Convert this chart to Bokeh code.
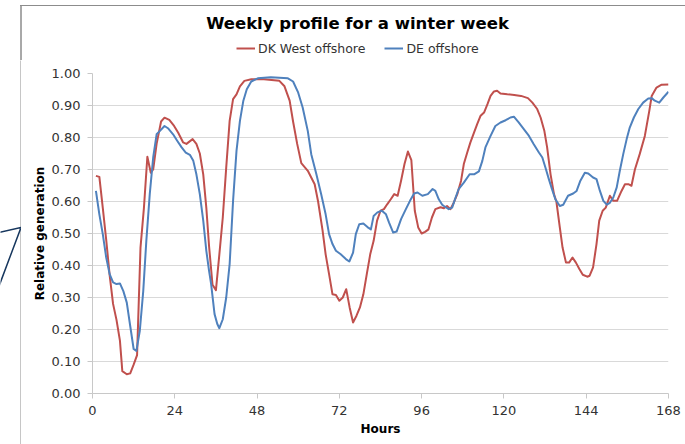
from bokeh.plotting import figure
from bokeh.layouts import column, row
from bokeh.models import (Legend, LegendItem, Label, PolyAnnotation, FixedTicker,
                          NumeralTickFormatter, Range1d)
from bokeh.embed import file_html
from bokeh.resources import INLINE

# ---- data ----
title_text = "Weekly profile for a winter week"
series_names = ["DK West offshore", "DE offshore"]
x_label = "Hours"
y_label = "Relative generation"
x_ticks = [0, 24, 48, 72, 96, 120, 144, 168]
y_ticks = [0.0, 0.1, 0.2, 0.3, 0.4, 0.5, 0.6, 0.7, 0.8, 0.9, 1.0]

dk_hours = [1, 2, 3, 4, 5, 6, 7, 8, 8.7, 10, 11, 12, 13, 14, 15, 16, 17, 17.7, 18.7, 20,
            21, 22.4, 23.8, 25, 26.4, 27.4, 29.2, 30.3, 31.3, 32.3, 33.2, 34, 35, 36, 37, 38,
            39, 40, 41, 42, 43, 44.3, 46.3, 50, 54.5, 56, 57.5, 58.5, 59.7, 60.9, 62.8, 64.8,
            65.8, 67.1, 68, 69, 70, 71, 72, 73, 74, 75, 76, 77, 78, 79, 80, 81, 82, 83, 84,
            85, 86, 87, 88, 89, 90, 91, 92, 93, 94, 95, 96, 97, 98, 99, 100, 101.5, 102.5,
            103.4, 104.4, 105.4, 106.4, 107.5, 108.3, 109.3, 110.2, 111.3, 112.2, 113.2,
            114.2, 115.2, 116.1, 117.1, 118, 119, 121, 123, 125, 127, 128.3, 129.7, 130.7,
            131.8, 132.6, 133.6, 134.6, 135.3, 136.3, 137.1, 138.1, 139, 140, 141, 142, 143,
            144.3, 145, 146, 147, 147.8, 148.8, 149.7, 150.9, 151.9, 153, 154.3, 155.3, 156.3,
            157.2, 158.2, 159.6, 161.1, 162.4, 163.1, 164.5, 166, 168]
dk_values = [0.68, 0.677, 0.58, 0.48, 0.37, 0.28, 0.23, 0.165, 0.07, 0.06, 0.063, 0.09, 0.12,
             0.456, 0.58, 0.74, 0.69, 0.70, 0.78, 0.85, 0.862, 0.855, 0.836, 0.815, 0.785,
             0.78, 0.795, 0.78, 0.75, 0.685, 0.58, 0.46, 0.34, 0.323, 0.435, 0.55, 0.706,
             0.852, 0.92, 0.935, 0.96, 0.977, 0.982, 0.982, 0.977, 0.96, 0.915, 0.85, 0.78,
             0.72, 0.696, 0.654, 0.60, 0.51, 0.435, 0.373, 0.31, 0.308, 0.29, 0.30, 0.326,
             0.269, 0.222, 0.243, 0.269, 0.31, 0.373, 0.435, 0.477, 0.54, 0.571, 0.576, 0.592,
             0.607, 0.623, 0.618, 0.665, 0.717, 0.756, 0.729, 0.571, 0.519, 0.50, 0.505, 0.513,
             0.55, 0.576, 0.582, 0.579, 0.586, 0.576, 0.597, 0.623, 0.665, 0.717, 0.753, 0.784,
             0.816, 0.842, 0.868, 0.878, 0.904, 0.93, 0.944, 0.946, 0.9375, 0.935, 0.933, 0.93,
             0.923, 0.909, 0.889, 0.8625, 0.82, 0.769, 0.685, 0.623, 0.60, 0.519, 0.456, 0.409,
             0.409, 0.425, 0.409, 0.389, 0.371, 0.365, 0.368, 0.394, 0.467, 0.54, 0.571, 0.581,
             0.618, 0.602, 0.602, 0.633, 0.654, 0.654, 0.649, 0.70, 0.748, 0.805, 0.883, 0.93,
             0.956, 0.965, 0.966]

de_hours = [1, 2, 3, 4, 5, 6, 7, 8, 9, 10, 11, 12, 12.8, 13.8, 14.8, 15.7, 16.7, 17.7, 18.7,
            19.6, 21, 22, 23.5, 24.7, 26, 27.2, 28.4, 29.4, 30.3, 31.3, 32.3, 33.2, 34, 34.6,
            35.6, 36.4, 37, 38, 39, 40, 41, 42, 43, 44, 45, 46.3, 48.2, 52, 57, 58.5, 60, 61.3,
            62.8, 63.8, 65.3, 66.7, 68, 69, 70, 71, 72.4, 73.9, 74.9, 76, 76.8, 77.8, 79, 80.2,
            81.2, 82, 83.1, 84.4, 85.6, 86.5, 87.7, 88.7, 90, 91.4, 92.6, 93.8, 94.8, 96.2,
            97.8, 99.2, 100, 101, 102, 102.5, 103.9, 104.9, 105.9, 106.8, 108.3, 110, 111.3,
            112.7, 113.7, 114.6, 116.1, 117.5, 119, 120.5, 121.9, 122.9, 124.3, 125.8, 127.3,
            128.7, 130.2, 131.2, 132.1, 133.1, 134, 135, 136.3, 137.3, 138.7, 140.2, 141.2,
            142.3, 143.6, 144.6, 146, 147, 148, 149, 150, 150.9, 151.9, 152.9, 153.8, 154.8,
            155.8, 156.7, 157.9, 159.2, 160.6, 162.1, 163.1, 164, 165.3, 166.5, 168]
de_values = [0.633, 0.56, 0.498, 0.425, 0.373, 0.347, 0.342, 0.344, 0.32, 0.284, 0.211, 0.139,
             0.133, 0.196, 0.32, 0.477, 0.623, 0.7375, 0.81, 0.82, 0.836, 0.829, 0.81, 0.79,
             0.769, 0.753, 0.746, 0.727, 0.685, 0.623, 0.54, 0.446, 0.383, 0.342, 0.248, 0.217,
             0.204, 0.232, 0.30, 0.404, 0.602, 0.758, 0.852, 0.915, 0.951, 0.975, 0.985, 0.988,
             0.985, 0.975, 0.94, 0.894, 0.82, 0.748, 0.685, 0.623, 0.56, 0.498, 0.467, 0.446,
             0.435, 0.42, 0.4125, 0.44, 0.498, 0.529, 0.531, 0.52, 0.513, 0.555, 0.566, 0.571,
             0.56, 0.534, 0.503, 0.506, 0.545, 0.576, 0.602, 0.625, 0.628, 0.618, 0.623, 0.639,
             0.633, 0.607, 0.59, 0.586, 0.576, 0.581, 0.6125, 0.639, 0.659, 0.685, 0.685, 0.694,
             0.727, 0.769, 0.805, 0.836, 0.847, 0.854, 0.8625, 0.865, 0.847, 0.826, 0.805,
             0.779, 0.753, 0.7375, 0.706, 0.67, 0.639, 0.607, 0.586, 0.59, 0.618, 0.625, 0.633,
             0.665, 0.69, 0.6875, 0.675, 0.67, 0.633, 0.602, 0.59, 0.596, 0.6125, 0.644, 0.696,
             0.748, 0.795, 0.831, 0.8625, 0.889, 0.909, 0.922, 0.923, 0.915, 0.909, 0.925, 0.943]

# ---- styling ----
FONT = "DejaVu Sans"
RED = "#c0504d"
BLUE = "#4f81bd"
BORDER = "#8c8c8c"
CALLOUT = "#17375e"

W, HEAD_H, BODY_H, STRIP_W = 685, 60, 384, 21


def blank(width, height):
    f = figure(width=width, height=height, output_backend="svg", toolbar_location=None,
               x_axis_type=None, y_axis_type=None,
               x_range=Range1d(0, width), y_range=Range1d(height, 0),
               min_border=0, min_border_left=0, min_border_right=0,
               min_border_top=0, min_border_bottom=0,
               background_fill_color="white", border_fill_color="white")
    f.title = None
    f.outline_line_color = None
    f.grid.visible = False
    f.frame_align = False
    return f


def stroke(xs, ys, color, width):
    return PolyAnnotation(xs=xs, ys=ys, fill_color=None, fill_alpha=0,
                          line_color=color, line_alpha=1.0, line_width=width)


# ---- header: title, legend, top of the chart-area border ----
head = blank(W, HEAD_H)
# transparent canvas so the chart-area top border (a CSS line) shows behind it
head.background_fill_color = None
head.border_fill_color = None
head.styles = {
    "background-color": "white",
    "background-image": f"linear-gradient({BORDER}, {BORDER})",
    "background-size": f"{W - 20}px 1px",
    "background-position": "20px 5px",
    "background-repeat": "no-repeat",
}
head.add_layout(stroke([20.5, 20.5, 20.5], [5.5, 60, 5.5], BORDER, 1))
head.add_layout(Label(x=357, y=23, text=title_text, text_align="center",
                      text_baseline="middle", text_font=FONT, text_font_style="bold",
                      text_font_size="16.5px", text_color="black"))
nan = float("nan")
key_dk = head.line(x=[nan], y=[nan], line_color=RED, line_width=2)
key_de = head.line(x=[nan], y=[nan], line_color=BLUE, line_width=2)
legend = Legend(items=[LegendItem(label=series_names[0], renderers=[key_dk]),
                       LegendItem(label=series_names[1], renderers=[key_de])],
                orientation="horizontal", location=(236, 4), padding=0, margin=0,
                border_line_color=None, background_fill_alpha=0,
                glyph_width=19, glyph_height=16, label_height=16, label_standoff=3,
                spacing=19, label_text_font=FONT, label_text_font_size="12.5px",
                label_text_color="#333333", label_text_baseline="middle")
head.add_layout(legend)

# ---- left strip: border line and callout fragment ----
strip = blank(STRIP_W, BODY_H)
strip.add_layout(stroke([20.5, 40, 40, 20.5], [-10, -10, 500, 500], BORDER, 1))
strip.add_layout(stroke([-2, 20.5, -2], [172, 167, 227], CALLOUT, 1.5))

# ---- main chart ----
p = figure(width=W - STRIP_W, height=BODY_H, output_backend="svg", toolbar_location=None,
           x_range=Range1d(0, 168), y_range=Range1d(0, 1),
           min_border_left=71, min_border_right=17, min_border_top=13, min_border_bottom=51,
           background_fill_color="white", border_fill_color="white")
p.outline_line_color = None
p.frame_align = False

p.line(dk_hours, dk_values, line_color=RED, line_width=2, line_join="round")
p.line(de_hours, de_values, line_color=BLUE, line_width=2, line_join="round")

for ax in (p.xaxis[0], p.yaxis[0]):
    ax.axis_line_color = "#c8c8c8"
    ax.major_tick_line_color = "#c8c8c8"
    ax.minor_tick_line_color = None
    ax.major_tick_out = 5
    ax.major_tick_in = 0
    ax.major_label_text_font = FONT
    ax.major_label_text_font_size = "13px"
    ax.major_label_text_color = "#333333"
    ax.axis_label_text_font = FONT
    ax.axis_label_text_font_style = "bold"
    ax.axis_label_text_font_size = "12px"
    ax.axis_label_text_color = "black"

p.xaxis.ticker = FixedTicker(ticks=x_ticks)
p.yaxis.ticker = FixedTicker(ticks=y_ticks)
p.yaxis.formatter = NumeralTickFormatter(format="0.00")
p.xaxis.major_label_standoff = 7
p.yaxis.major_label_standoff = 7
p.xaxis.axis_label = x_label
p.yaxis.axis_label = y_label
p.xaxis.axis_label_standoff = 4
p.yaxis.axis_label_standoff = 2

p.xgrid.grid_line_color = None
p.ygrid.grid_line_color = "#d9d9d9"
p.ygrid.grid_line_width = 1

layout = column(head, row(strip, p, spacing=0), spacing=0)

open("out.html", "w").write(file_html(layout, INLINE))
